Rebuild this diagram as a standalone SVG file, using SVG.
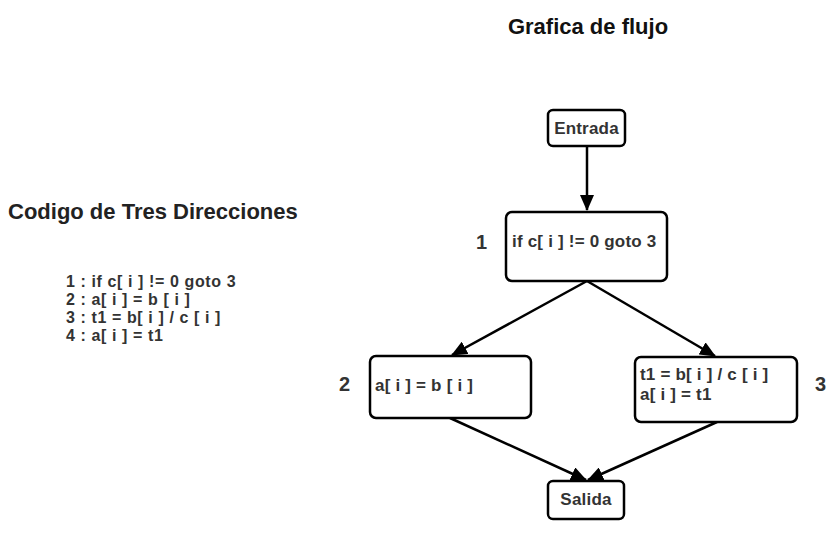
<svg xmlns="http://www.w3.org/2000/svg" width="836" height="541" viewBox="0 0 836 541">
<defs>
<marker id="ah" markerWidth="16" markerHeight="14" refX="15" refY="7" orient="auto" markerUnits="userSpaceOnUse" viewBox="0 0 16 14">
<path d="M0,0 L16,7 L0,14 Z" fill="#000"/>
</marker>
</defs>
<style>
text{font-family:"Liberation Sans",Arial,sans-serif;font-weight:bold;fill:#333}
.box{fill:#fff;stroke:#000;stroke-width:2.5}
.edge{stroke:#000;stroke-width:2.5;fill:none}
.t{font-size:17px;letter-spacing:0.2px}
.c{font-size:16px;letter-spacing:0.6px}
.lbl{font-size:20px}
.title{font-size:22px;fill:#111}
</style>
<rect width="836" height="541" fill="#fff"/>
<text class="title" x="588" y="34" text-anchor="middle">Grafica de flujo</text>
<text x="8" y="219" style="font-size:22px;fill:#222">Codigo de Tres Direcciones</text>
<g id="code" class="c">
<text x="66" y="287">1 : if c[ i ] != 0 goto 3</text>
<text x="66" y="305">2 : a[ i ] = b [ i ]</text>
<text x="66" y="323">3 : t1 = b[ i ] / c [ i ]</text>
<text x="66" y="341">4 : a[ i ] = t1</text>
</g>
<g id="connectors">
<line class="edge" x1="587" y1="146" x2="587" y2="210" marker-end="url(#ah)"/>
<line class="edge" x1="587" y1="281" x2="452" y2="355" marker-end="url(#ah)"/>
<line class="edge" x1="587" y1="281" x2="715" y2="356" marker-end="url(#ah)"/>
<line class="edge" x1="450" y1="418" x2="586" y2="480" marker-end="url(#ah)"/>
<line class="edge" x1="717" y1="422" x2="588" y2="480" marker-end="url(#ah)"/>
</g>
<g id="entrada">
<rect class="box" x="548" y="110" width="77" height="36" rx="5"/>
<text class="t" x="586.5" y="134" text-anchor="middle">Entrada</text>
</g>
<g id="n1">
<rect class="box" x="506" y="212" width="161" height="69" rx="6"/>
<text class="t" x="512" y="247">if c[ i ] != 0 goto 3</text>
<text class="lbl" x="476" y="249">1</text>
</g>
<g id="n2">
<rect class="box" x="370" y="356" width="161" height="62" rx="6"/>
<text class="t" x="375" y="391">a[ i ] = b [ i ]</text>
<text class="lbl" x="339" y="391">2</text>
</g>
<g id="n3">
<rect class="box" x="635" y="357" width="162" height="65" rx="6"/>
<text class="t" x="640" y="380">t1 = b[ i ] / c [ i ]</text>
<text class="t" x="640" y="400">a[ i ] = t1</text>
<text class="lbl" x="815" y="391">3</text>
</g>
<g id="salida">
<rect class="box" x="548" y="481" width="76" height="38" rx="5"/>
<text class="t" x="586" y="505" text-anchor="middle">Salida</text>
</g>
</svg>
